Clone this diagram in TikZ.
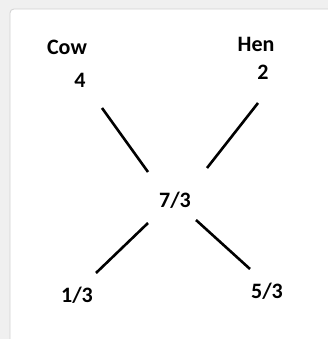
\documentclass[tikz,border=0pt]{standalone}
\usepackage{fontspec}
\setmainfont{Carlito}
\begin{document}
\begin{tikzpicture}[x=1pt,y=-1pt,
  lbl/.style={font=\fontsize{22}{26}\selectfont\bfseries, inner sep=0pt, anchor=base},
  arm/.style={line width=2.6pt, black}]
  % page and card
  \fill[black!6] (0,0) rectangle (328,339);
  \useasboundingbox (0,0) rectangle (328,339);
  \draw[black!18, fill=white, line width=0.8pt, rounded corners=4pt] (10,9) rectangle (340,350);
  % labels
  \node[lbl] (cow) at (67,55) {Cow};
  \node[lbl] (four) at (80,88) {4};
  \node[lbl] (hen) at (256,52) {Hen};
  \node[lbl] (two) at (263,80) {2};
  \node[lbl] (mid) at (175,207) {7/3};
  \node[lbl] (third) at (77,302) {1/3};
  \node[lbl] (fivethirds) at (267,298) {5/3};
  % arm end points
  \coordinate (a1) at (102,108); \coordinate (a2) at (148,172);
  \coordinate (b1) at (258,103); \coordinate (b2) at (207,168);
  \coordinate (c1) at (148,223); \coordinate (c2) at (96,273);
  \coordinate (d1) at (196,220); \coordinate (d2) at (250,269);
  \draw[arm] (a1) -- (a2);
  \draw[arm] (b1) -- (b2);
  \draw[arm] (c1) -- (c2);
  \draw[arm] (d1) -- (d2);
\end{tikzpicture}
\end{document}
